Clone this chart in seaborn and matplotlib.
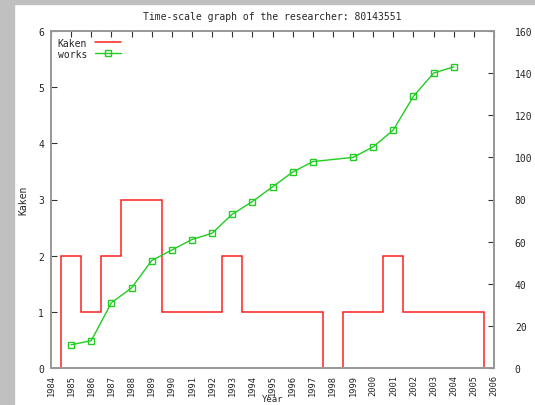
import matplotlib
matplotlib.use("Agg")
import matplotlib.pyplot as plt
from matplotlib.patches import Rectangle
import numpy as np
import pandas as pd
import seaborn as sns

# Kaken count per year (drawn as centred steps, gnuplot "histeps" look)
kaken_years = list(range(1985, 2006))
kaken = [2, 1, 2, 3, 3, 1, 1, 1, 2, 1, 1, 1, 1, 0, 1, 1, 2, 1, 1, 1, 1]

# cumulative works per year (no point for 1998)
works_years = [1985, 1986, 1987, 1988, 1989, 1990, 1991, 1992, 1993, 1994,
               1995, 1996, 1997, 1999, 2000, 2001, 2002, 2003, 2004]
works = [11, 13, 31, 38, 51, 56, 61, 64, 73, 79, 86, 93, 98, 100, 105, 113,
         129, 140, 143]

year_ticks = list(range(1984, 2007))
kaken_ticks = [0, 1, 2, 3, 4, 5, 6]
works_ticks = [0, 20, 40, 60, 80, 100, 120, 140, 160]

title = "Time-scale graph of the researcher: 80143551"

sns.set_style("white")
plt.rcParams["font.family"] = ["DejaVu Sans Mono"]
plt.rcParams["font.size"] = 7

red = "#ff2020"
green = "#22cc22"
frame = "#999999"

fig = plt.figure(figsize=(5.35, 4.06), dpi=100)
fig.patches.append(Rectangle((0, 0), 14 / 535, 1, transform=fig.transFigure,
                             color="#c0c0c0", zorder=-10))
fig.patches.append(Rectangle((0, 1 - 5 / 406), 1, 5 / 406, transform=fig.transFigure,
                             color="#c0c0c0", zorder=-10))
ax = fig.add_axes([51 / 535, 37 / 406, 443 / 535, 337 / 406])
ax2 = ax.twinx()

# Kaken steps
edges = [y - 0.5 for y in kaken_years] + [kaken_years[-1] + 0.5]
ax.stairs(kaken, edges, baseline=0, color=red, linewidth=1.1, label="Kaken")

# works line
df = pd.DataFrame({"year": works_years, "works": works})
sns.lineplot(data=df, x="year", y="works", ax=ax2, color=green, linewidth=1.0,
             marker="s", markersize=5, markerfacecolor="none",
             markeredgecolor=green, markeredgewidth=1.0, label="works")

ax.set_xlim(1984, 2006)
ax.set_ylim(0, 6)
ax2.set_ylim(0, 160)
ax.set_xticks(year_ticks)
ax.set_xticklabels([str(y) for y in year_ticks], rotation=90)
ax.set_yticks(kaken_ticks)
ax2.set_yticks(works_ticks)

for a in (ax, ax2):
    for s in a.spines.values():
        s.set_color(frame)
        s.set_linewidth(1.3)
ax.tick_params(axis="x", direction="in", top=True, length=4, pad=4,
               color="#333333", labelsize=6.3)
ax.tick_params(axis="y", direction="in", left=True, right=False, length=4,
               pad=5, color="#333333", labelsize=7)
ax2.tick_params(axis="y", direction="in", right=True, length=4, pad=15,
                color="#333333", labelsize=7)

ax.set_xlabel("Year", fontsize=6.5)
ax.xaxis.set_label_coords(0.5, -0.077)
ax.set_ylabel("Kaken", fontsize=7)
ax.yaxis.set_label_coords(-0.05, 0.5)
ax2.set_ylabel("")

h1, l1 = ax.get_legend_handles_labels()
h2, l2 = ax2.get_legend_handles_labels()
ax2.legend(h1 + h2, l1 + l2, loc="upper left", frameon=False, markerfirst=False,
           handlelength=2.7, fontsize=7, borderaxespad=0.3, labelspacing=0.1,
           bbox_to_anchor=(0.0, 1.0))

fig.text(272 / 535, 1 - 17 / 406, title, ha="center", va="center", fontsize=7)

fig.savefig("out.png", dpi=100)
